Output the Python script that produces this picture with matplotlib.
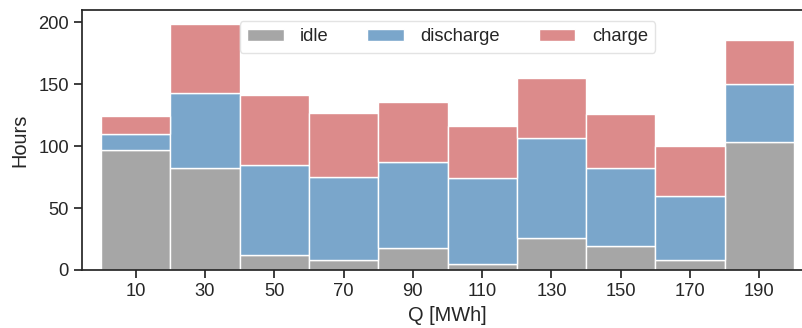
import matplotlib
matplotlib.use("Agg")
import matplotlib.pyplot as plt
import numpy as np

bins = [10, 30, 50, 70, 90, 110, 130, 150, 170, 190]
idle = [97, 82, 12, 8, 18, 5, 26, 19, 8, 103]
discharge = [13, 61, 73, 67, 69, 69, 81, 63, 52, 47]
charge = [14, 56, 56, 52, 49, 42, 48, 44, 40, 36]
labels = ["idle", "discharge", "charge"]
colors = ["#a6a6a6", "#7aa6cb", "#dc8b8b"]

plt.rcParams['font.family'] = ['Liberation Sans', 'DejaVu Sans']
fig = plt.figure(figsize=(8.02, 3.28), dpi=100)
ax = fig.add_axes([82/802, 58/328, (813-82)/802, 260/328])

x = np.array(bins)
bottom = np.zeros(len(bins))
for vals, lab, col in zip([idle, discharge, charge], labels, colors):
    ax.bar(x, vals, width=20, bottom=bottom, color=col, edgecolor="white",
           linewidth=1.0, label=lab)
    bottom += np.array(vals)

ax.set_xlim(-5.5, 205.5)
ax.set_ylim(0, 210)
ax.set_xticks(bins)
ax.set_yticks([0, 50, 100, 150, 200])
ax.set_xlabel("Q [MWh]", fontsize=14.4, color="#262626", labelpad=4)
ax.set_ylabel("Hours", fontsize=14.4, color="#262626", labelpad=6)
ax.tick_params(axis="both", labelsize=13.2, colors="#262626", length=6, width=1.25, direction="out")
for s in ax.spines.values():
    s.set_color("#262626")
    s.set_linewidth(1.25)

leg = ax.legend(loc="upper center", ncol=3, fontsize=13.2, frameon=True,
                handlelength=2.0, handleheight=0.6, columnspacing=2.1, handletextpad=0.9,
                borderaxespad=0.6, fancybox=True, borderpad=0.4)
leg.get_frame().set_edgecolor("#dddddd")
leg.get_frame().set_linewidth(1.0)
for t in leg.get_texts():
    t.set_color("#262626")

fig.savefig("out.png", dpi=100)
